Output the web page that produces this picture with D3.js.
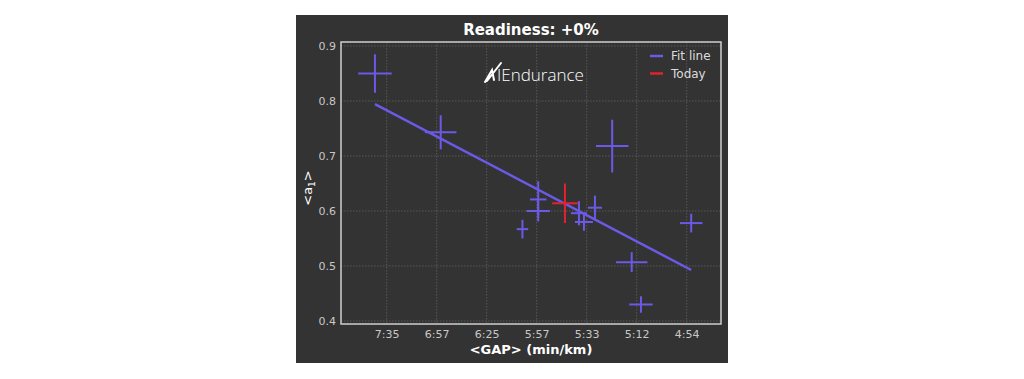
<!DOCTYPE html>
<html>
<head>
<meta charset="utf-8">
<script src="https://cdn.jsdelivr.net/npm/d3@7"></script>
<style>
  body { margin: 0; background: #ffffff; }
  text { font-family: "DejaVu Sans", sans-serif; }
</style>
</head>
<body>
<div id="chart"></div>
<script>
// speed in m/s (shown as pace on the axis), a1 = DFA alpha1
const speeds   = [2.153, 2.416, 3.102, 3.418, 3.180, 3.217, 2.743, 2.806, 2.806, 2.969, 2.989, 3.033];
const speedErr = [0.067, 0.063, 0.065, 0.045, 0.063, 0.047, 0.023, 0.033, 0.047, 0.032, 0.036, 0.028];
const a1Values = [0.850, 0.743, 0.718, 0.578, 0.507, 0.430, 0.567, 0.621, 0.600, 0.596, 0.580, 0.606];
const a1Err    = [0.035, 0.031, 0.048, 0.017, 0.018, 0.015, 0.017, 0.033, 0.019, 0.022, 0.016, 0.022];

const todaySpeed = [2.913];
const todaySpeedErr = [0.051];
const todayA1 = [0.614];
const todayA1Err = [0.036];

// linear fit a1 = slope * speed + intercept
const fitSlope = -0.2386;
const fitIntercept = 1.3082;

const xTickValues = [2.2, 2.4, 2.6, 2.8, 3.0, 3.2, 3.4];
const xTickLabels = ['7:35', '6:57', '6:25', '5:57', '5:33', '5:12', '4:54'];
const yTickValues = [0.4, 0.5, 0.6, 0.7, 0.8, 0.9];

const legendLabels = ['Fit line', 'Today'];

const xLimits = [2.0172, 3.5372];
const yLimits = [0.3945, 0.9073];

const blue = '#6a5ae6';
const red = '#e3222f';

const svg = d3.select('#chart').append('svg')
  .attr('width', 1024)
  .attr('height', 379);

// dark figure panel
svg.append('rect')
  .attr('x', 296).attr('y', 15)
  .attr('width', 432).attr('height', 348)
  .attr('fill', '#333333');

const margin = {left: 341, top: 42};
const width = 380, height = 282;

const g = svg.append('g').attr('transform', `translate(${margin.left},${margin.top})`);

const x = d3.scaleLinear().domain(xLimits).range([0, width]);
const y = d3.scaleLinear().domain(yLimits).range([height, 0]);

// grid
g.selectAll('.vgrid').data(xTickValues).enter().append('line')
  .attr('x1', d => x(d)).attr('x2', d => x(d))
  .attr('y1', 0).attr('y2', height)
  .attr('stroke', '#585858').attr('stroke-width', 1)
  .attr('stroke-dasharray', '1.5,1.5');
g.selectAll('.hgrid').data(yTickValues).enter().append('line')
  .attr('y1', d => y(d)).attr('y2', d => y(d))
  .attr('x1', 0).attr('x2', width)
  .attr('stroke', '#585858').attr('stroke-width', 1)
  .attr('stroke-dasharray', '1.5,1.5');

// axes
const xAxis = d3.axisBottom(x)
  .tickValues(xTickValues)
  .tickFormat((d, i) => xTickLabels[i])
  .tickSize(0).tickPadding(6);
const yAxis = d3.axisLeft(y)
  .tickValues(yTickValues)
  .tickFormat(d3.format('.1f'))
  .tickSize(0).tickPadding(5);

const xg = g.append('g').attr('transform', `translate(0,${height})`).call(xAxis);
const yg = g.append('g').call(yAxis);
[xg, yg].forEach(a => {
  a.select('.domain').remove();
  a.selectAll('text')
    .attr('fill', '#c8c8c8')
    .style('font-size', '11px')
    .style('font-family', '"DejaVu Sans", sans-serif');
});

// error bar crosses
const points = speeds.map((s, i) => ({s: s, se: speedErr[i], a: a1Values[i], ae: a1Err[i]}));
const today = todaySpeed.map((s, i) => ({s: s, se: todaySpeedErr[i], a: todayA1[i], ae: todayA1Err[i]}));

function drawCrosses(data, color) {
  const c = g.append('g');
  c.selectAll('.h').data(data).enter().append('line')
    .attr('x1', d => x(d.s - d.se)).attr('x2', d => x(d.s + d.se))
    .attr('y1', d => y(d.a)).attr('y2', d => y(d.a))
    .attr('stroke', color).attr('stroke-width', 2);
  c.selectAll('.v').data(data).enter().append('line')
    .attr('x1', d => x(d.s)).attr('x2', d => x(d.s))
    .attr('y1', d => y(d.a - d.ae)).attr('y2', d => y(d.a + d.ae))
    .attr('stroke', color).attr('stroke-width', 2);
}

drawCrosses(points, blue);

// fit line over the data range
const fitX = d3.extent(speeds);
g.append('line')
  .attr('x1', x(fitX[0])).attr('y1', y(fitSlope * fitX[0] + fitIntercept))
  .attr('x2', x(fitX[1])).attr('y2', y(fitSlope * fitX[1] + fitIntercept))
  .attr('stroke', blue).attr('stroke-width', 2.5);

drawCrosses(today, red);

// plot frame
g.append('rect')
  .attr('x', 0).attr('y', 0)
  .attr('width', width).attr('height', height)
  .attr('fill', 'none')
  .attr('stroke', '#d0d0d0').attr('stroke-width', 1.5);

// legend
const legend = g.append('g').attr('transform', `translate(${width - 71},14)`);
legendLabels.forEach((lab, i) => {
  legend.append('line')
    .attr('x1', 0).attr('x2', 13)
    .attr('y1', i * 17.5).attr('y2', i * 17.5)
    .attr('stroke', i === 0 ? blue : red).attr('stroke-width', 2.5);
  legend.append('text')
    .attr('x', 21).attr('y', i * 17.5).attr('dy', '0.35em')
    .attr('fill', '#dcdcdc')
    .style('font-size', '12px')
    .text(lab);
});

// logo
const logo = svg.append('g');
logo.append('path')
  .attr('d', 'M485,82 L492,70 L494,80 M487,81 L501,63')
  .attr('fill', 'none').attr('stroke', '#ffffff')
  .attr('stroke-width', 2).attr('stroke-linecap', 'round');
logo.append('text')
  .attr('x', 497).attr('y', 81)
  .attr('fill', '#ffffff')
  .style('font-family', '"Open Sans", sans-serif')
  .style('font-weight', 300)
  .style('font-size', '17px')
  .text('IEndurance');

// titles
svg.append('text')
  .attr('x', 531).attr('y', 35)
  .attr('text-anchor', 'middle')
  .attr('fill', '#ffffff')
  .style('font-size', '15px').style('font-weight', 'bold')
  .text('Readiness: +0%');

svg.append('text')
  .attr('x', 531).attr('y', 354)
  .attr('text-anchor', 'middle')
  .attr('fill', '#ffffff')
  .style('font-size', '13px').style('font-weight', 'bold')
  .text('<GAP> (min/km)');

const yl = svg.append('text')
  .attr('transform', 'translate(312,188) rotate(-90)')
  .attr('text-anchor', 'middle')
  .attr('fill', '#ffffff')
  .style('font-size', '13px');
yl.append('tspan').text('<a');
yl.append('tspan').attr('dy', 3).style('font-size', '9px').text('1');
yl.append('tspan').attr('dy', -3).text('>');
</script>
</body>
</html>
